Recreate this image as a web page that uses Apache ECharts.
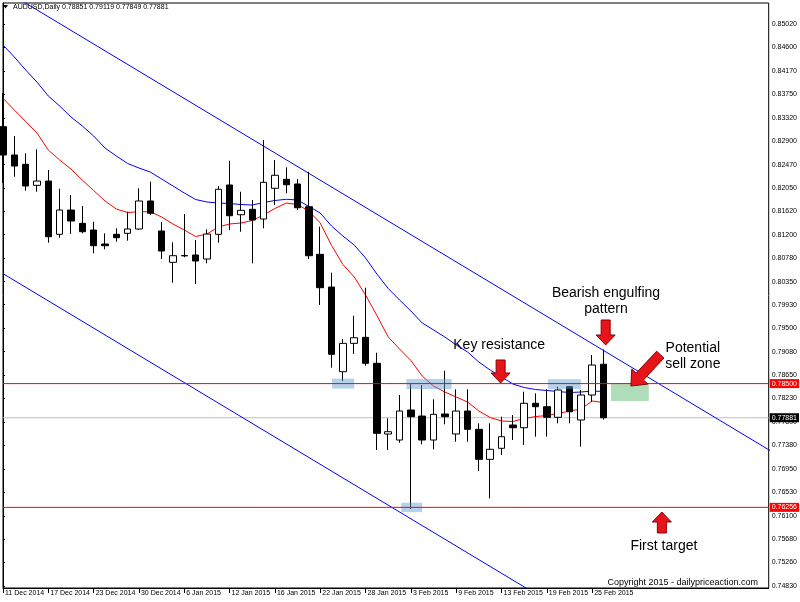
<!DOCTYPE html>
<html><head><meta charset="utf-8">
<script src="https://cdn.jsdelivr.net/npm/echarts@6/dist/echarts.min.js"></script>
<style>html,body{margin:0;padding:0;background:#fff}#c{width:800px;height:602px}</style>
</head><body><div id="c"></div>
<script>
// ---- data ----
const symbol = 'AUDUSD,Daily';
const dates = ['2014-12-11','2014-12-12','2014-12-15','2014-12-16','2014-12-17','2014-12-18','2014-12-19','2014-12-22','2014-12-23','2014-12-24','2014-12-26','2014-12-29','2014-12-30','2014-12-31','2015-01-02','2015-01-05','2015-01-06','2015-01-07','2015-01-08','2015-01-09','2015-01-12','2015-01-13','2015-01-14','2015-01-15','2015-01-16','2015-01-19','2015-01-20','2015-01-21','2015-01-22','2015-01-23','2015-01-26','2015-01-27','2015-01-28','2015-01-29','2015-01-30','2015-02-02','2015-02-03','2015-02-04','2015-02-05','2015-02-06','2015-02-09','2015-02-10','2015-02-11','2015-02-12','2015-02-13','2015-02-16','2015-02-17','2015-02-18','2015-02-19','2015-02-20','2015-02-23','2015-02-24','2015-02-25','2015-02-26'];
const opens  = [0.83158,0.82645,0.82476,0.82095,0.82173,0.81207,0.81647,0.81406,0.81285,0.81031,0.81207,0.81225,0.81303,0.81811,0.81267,0.80699,0.80822,0.80832,0.80759,0.81207,0.82101,0.81562,0.81660,0.81484,0.82041,0.82204,0.82119,0.81707,0.80844,0.80251,0.78716,0.79230,0.79339,0.78868,0.77586,0.77477,0.78021,0.77912,0.77477,0.77949,0.77586,0.78003,0.77671,0.77127,0.77327,0.77749,0.77700,0.78143,0.78081,0.77889,0.78444,0.77840,0.78293,0.78851];
const highs  = [0.83769,0.82989,0.82676,0.82748,0.82373,0.82034,0.81920,0.81720,0.81435,0.81225,0.81316,0.81617,0.82041,0.82161,0.81430,0.81062,0.81575,0.81104,0.81297,0.82083,0.82541,0.81979,0.81829,0.82917,0.82554,0.82422,0.82210,0.82342,0.81345,0.80511,0.79308,0.79731,0.80239,0.79060,0.77871,0.78293,0.78493,0.78474,0.78215,0.78734,0.78396,0.78396,0.77780,0.77780,0.77900,0.77930,0.78353,0.78324,0.78396,0.78444,0.78456,0.78384,0.79018,0.79119];
const lows   = [0.82137,0.82251,0.81997,0.81979,0.81055,0.81145,0.81212,0.81225,0.80862,0.80935,0.81073,0.81091,0.81285,0.81557,0.80759,0.80329,0.80790,0.80306,0.80681,0.81055,0.81285,0.81254,0.80681,0.81316,0.81738,0.81950,0.81647,0.80759,0.79925,0.78788,0.78547,0.79036,0.78824,0.77296,0.77296,0.77428,0.76226,0.77399,0.77309,0.77762,0.77446,0.77446,0.76915,0.76420,0.77205,0.77477,0.77387,0.77537,0.77537,0.77780,0.77780,0.77356,0.78172,0.77849];
const closes = [0.82645,0.82445,0.82083,0.82173,0.81163,0.81647,0.81448,0.81254,0.81000,0.81000,0.81145,0.81303,0.81811,0.81588,0.80904,0.80819,0.80816,0.80723,0.81212,0.82023,0.81544,0.81642,0.81466,0.82150,0.82277,0.82106,0.81689,0.80819,0.80239,0.79031,0.79230,0.79332,0.78868,0.77599,0.77628,0.78003,0.77900,0.77477,0.77943,0.77900,0.78003,0.77671,0.77127,0.77309,0.77537,0.77700,0.78143,0.78081,0.77889,0.78384,0.77990,0.78293,0.78837,0.77881];
const maFast = [0.83673,0.83461,0.83252,0.83044,0.82735,0.82554,0.82391,0.82191,0.82001,0.81811,0.81666,0.81602,0.81617,0.81617,0.81521,0.81394,0.81285,0.81167,0.81212,0.81339,0.81394,0.81412,0.81457,0.81557,0.81675,0.81774,0.81747,0.81629,0.81412,0.81004,0.80659,0.80433,0.80106,0.79735,0.79345,0.79127,0.78919,0.78638,0.78456,0.78347,0.78257,0.78166,0.78003,0.77885,0.77822,0.77813,0.77867,0.77903,0.77921,0.77958,0.78003,0.78039,0.78184,0.78157];
const maSlow = [0.84639,0.84422,0.84186,0.83968,0.83715,0.83533,0.83334,0.83171,0.82989,0.82772,0.82627,0.82491,0.82409,0.82336,0.82210,0.82083,0.81956,0.81838,0.81793,0.81774,0.81765,0.81747,0.81738,0.81784,0.81820,0.81842,0.81829,0.81711,0.81593,0.81357,0.81176,0.81013,0.80777,0.80487,0.80224,0.80016,0.79816,0.79599,0.79472,0.79345,0.79200,0.79073,0.78891,0.78746,0.78619,0.78493,0.78429,0.78393,0.78375,0.78357,0.78338,0.78347,0.78366,0.78357];
const upperChannel = [[0, 0.85646], [68, 0.77249]];
const lowerChannel = [[0, 0.80494], [50, 0.74320]];
const resistanceLevel = 0.78500;
const targetLevel = 0.76256;
const lastPrice = 0.77881;
const yTickValues = [0.85020,0.84600,0.84170,0.83750,0.83320,0.82900,0.82470,0.82050,0.81620,0.81200,0.80780,0.80350,0.79930,0.79500,0.79080,0.78650,0.78230,0.77800,0.77380,0.76950,0.76530,0.76100,0.75680,0.75260,0.74830];
const xTickIndex = [0,4,8,12,16,20,24,28,32,36,40,44,48,52];
const xTickLabels = ['11 Dec 2014','17 Dec 2014','23 Dec 2014','30 Dec 2014','6 Jan 2015','12 Jan 2015','16 Jan 2015','22 Jan 2015','28 Jan 2015','3 Feb 2015','9 Feb 2015','13 Feb 2015','19 Feb 2015','25 Feb 2015'];
// highlight zones: [barFrom, barTo, priceLow, priceHigh]
const blueZones = [[29.05,31.0,0.78410,0.78590],[35.6,39.6,0.78400,0.78585],[35.15,37.0,0.76170,0.76340],[48.1,51.0,0.78400,0.78580]];
const greenZones = [[53.66,57.0,0.78185,0.78505]];

// ---- chart ----
const X_MIN = 0, X_MAX = 67.58;
const FONT = 'Liberation Sans, Arial, sans-serif';
const chart = echarts.init(document.getElementById('c'), null, {renderer:'canvas'});
const candleData = dates.map((d,i)=>[i, opens[i], closes[i], lows[i], highs[i]]);
const fastData = maFast.map((v,i)=>[i,v]);
const slowData = maSlow.map((v,i)=>[i,v]);

function zoneSeries(data, color){
  return {type:'custom', data, z:3, silent:true, clip:true,
    encode:{x:[0,1], y:[2,3]},
    renderItem:(params, api)=>{
      const a = api.coord([api.value(0), api.value(3)]);
      const b = api.coord([api.value(1), api.value(2)]);
      return {type:'rect', shape:{x:a[0], y:a[1], width:b[0]-a[0], height:b[1]-a[1]}, style:{fill:color}};
    }};
}
function levelSeries(v, lineColor, bg, z){
  return {type:'line', data:[[X_MIN, v],[X_MAX, v]], z:z, silent:true, showSymbol:false, symbol:'none',
    color: lineColor,
    lineStyle:{color:lineColor, width:1, type:'solid'},
    endLabel:{show:true, formatter:()=>v.toFixed(5), color:'#fff', backgroundColor:bg, fontSize:7, fontFamily:FONT, padding:[1,2,1,2], distance:1}};
}

const option = {
  animation:false,
  backgroundColor:'#fff',
  grid:{left:3, right:30, top:3, bottom:14, show:true, borderColor:'#000', borderWidth:1, backgroundColor:'#fff'},
  xAxis:{type:'value', min:X_MIN, max:X_MAX,
    axisLine:{show:true, lineStyle:{color:'#000', width:1}},
    splitLine:{show:false},
    axisTick:{show:true, customValues:xTickIndex, length:5, lineStyle:{color:'#000'}},
    axisLabel:{customValues:xTickIndex, formatter:(v)=>xTickLabels[xTickIndex.indexOf(Math.round(v))], align:'left', fontSize:7, fontFamily:FONT, color:'#000', margin:2, padding:[0,0,0,2]}},
  yAxis:{type:'value', position:'right', min:0.74794, max:0.85401,
    axisLine:{show:true, lineStyle:{color:'#000', width:1}},
    splitLine:{show:false},
    axisTick:{show:true, customValues:yTickValues, length:2, lineStyle:{color:'#000'}},
    axisLabel:{customValues:yTickValues, formatter:(v)=>v.toFixed(5), fontSize:7, fontFamily:FONT, color:'#000', margin:3}},
  series:[
    levelSeries(lastPrice,'#c0c0c0','#000',0),
    {type:'line', data:upperChannel, showSymbol:false, symbol:'none', lineStyle:{color:'#0000ff', width:1}, z:1, silent:true},
    {type:'line', data:lowerChannel, showSymbol:false, symbol:'none', lineStyle:{color:'#0000ff', width:1}, z:1, silent:true},
    {type:'line', data:slowData, showSymbol:false, symbol:'none', lineStyle:{color:'#0000ff', width:1}, z:1, silent:true},
    {type:'line', data:fastData, showSymbol:false, symbol:'none', lineStyle:{color:'#ff0000', width:1}, z:1, silent:true},
    {type:'candlestick', data:candleData, encode:{x:0, y:[1,2,3,4]}, barWidth:7, z:2, silent:true,
      itemStyle:{color:'#fff', color0:'#000', borderColor:'#000', borderColor0:'#000', borderWidth:1}},
    zoneSeries(blueZones,'rgba(90,155,215,0.45)'),
    zoneSeries(greenZones,'rgba(80,180,100,0.45)'),
    levelSeries(resistanceLevel,'#ff0000','#ff0000',4),
    levelSeries(targetLevel,'#ff0000','#ff0000',4)
  ]
};
chart.setOption(option);

// ---- annotations anchored in data coordinates ----
const px = (i,p)=>chart.convertToPixel({gridIndex:0},[i,p]);
function arrowPts(tip, dir, len, hl, hh, sh){
  const L = Math.hypot(dir[0],dir[1]); const u=[dir[0]/L, dir[1]/L]; const n=[-u[1], u[0]];
  const P=(a,b)=>[tip[0]-u[0]*a+n[0]*b, tip[1]-u[1]*a+n[1]*b];
  return [P(0,0),P(hl,-hh),P(hl,-sh),P(len,-sh),P(len,sh),P(hl,sh),P(hl,hh)];
}
function arrow(tip, dir, len, hl, hh, sh){
  return {type:'polygon', z:100, silent:true, shape:{points:arrowPts(tip,dir,len,hl||10,hh||9.5,sh||4.5)},
    style:{fill:'#e8141b', stroke:'#8c0000', lineWidth:1}};
}
function label(pt, text, align, size){
  return {type:'text', z:100, silent:true, x:pt[0], y:pt[1],
    style:{text, fill:'#000', fontSize:size||14, fontFamily:FONT, align:align||'center', verticalAlign:'middle'}};
}
const last = dates.length-1;
const header = symbol + ' ' + [opens[last],highs[last],lows[last],closes[last]].map(v=>v.toFixed(5)).join(' ');
chart.setOption({graphic:[
  {type:'polygon', z:100, silent:true, shape:{points:[[3,5],[8,5],[5.5,8.5]]}, style:{fill:'#000'}},
  {type:'text', z:100, silent:true, x:13, y:7, style:{text:header, fill:'#000', fontSize:7, fontFamily:FONT, align:'left', verticalAlign:'middle'}},
  label(px(53.22,0.80143),'Bearish engulfing'),
  label(px(53.22,0.79852),'pattern'),
  label(px(39.74,0.79200),'Key resistance','left'),
  label(px(60.88,0.79145),'Potential'),
  label(px(60.88,0.78855),'sell zone'),
  label(px(58.33,0.75555),'First target'),
  arrow(px(53.19,0.79200),[0,1],25),
  arrow(px(43.92,0.78511),[0,1],23),
  arrow(px(55.42,0.78456),[-29,31],43,13,11,5),
  arrow(px(58.15,0.76172),[0,-1],21),
  {type:'text', z:100, silent:true, right:42, bottom:15, style:{text:'Copyright 2015 - dailypriceaction.com', fill:'#000', fontSize:9, fontFamily:FONT}}
]});
</script>
</body></html>
